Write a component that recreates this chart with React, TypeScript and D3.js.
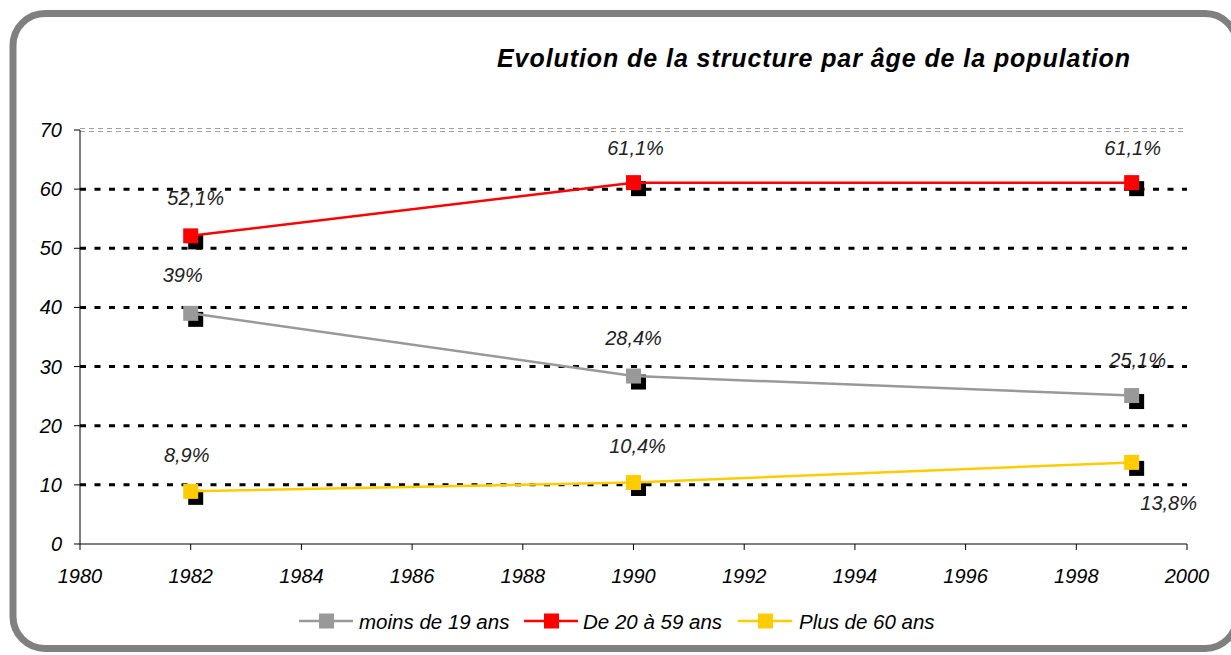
import React from "react";
import * as d3 from "d3";

const years = [1982, 1990, 1999];
const seriesNames = ["moins de 19 ans", "De 20 à 59 ans", "Plus de 60 ans"];
const moins19 = [39, 28.4, 25.1];
const de20a59 = [52.1, 61.1, 61.1];
const plus60 = [8.9, 10.4, 13.8];
const labelsMoins19 = ["39%", "28,4%", "25,1%"];
const labels20a59 = ["52,1%", "61,1%", "61,1%"];
const labelsPlus60 = ["8,9%", "10,4%", "13,8%"];
const colors = ["#999999", "#ff0000", "#ffcc00"];
const xTicks = [1980, 1982, 1984, 1986, 1988, 1990, 1992, 1994, 1996, 1998, 2000];
const yTicks = [0, 10, 20, 30, 40, 50, 60, 70];
const title = "Evolution de la structure par âge de la population";

// label offsets [dx, dy] (center) per series per point
const labelOffsets = [
  [[-8, -38], [0, -38], [6, -36]],
  [[5, -38], [2, -35], [1, -35]],
  [[-4, -36], [4, -36], [37, 41]],
];

export default function App() {
  const x = d3.scaleLinear().domain([1980, 2000]).range([80, 1187]);
  const y = d3.scaleLinear().domain([0, 70]).range([544, 130]);
  const font = "'Liberation Sans', Arial, sans-serif";
  const data = [moins19, de20a59, plus60];
  const labels = [labelsMoins19, labels20a59, labelsPlus60];
  const line = d3
    .line<number>()
    .x((_, i) => x(years[i]))
    .y((d) => y(d));
  const ms = 15;
  const legendItems = [
    { lx: 299, tx: 359 },
    { lx: 524, tx: 583 },
    { lx: 738, tx: 799 },
  ];
  return (
    <svg
      width={1231}
      height={655}
      style={{ position: "absolute", left: 0, top: 0, background: "#fff" }}
      fontFamily={font}
    >
      <rect x={13} y={13.5} width={1224} height={635} rx={32} ry={32} fill="#fff" stroke="#808080" strokeWidth={7} />
      <text
        x={497}
        y={67}
        textLength={633}
        lengthAdjust="spacing"
        fontSize={25}
        fontWeight="bold"
        fontStyle="italic"
        fill="#000"
      >
        {title}
      </text>
      {/* top border of plot (70) */}
      <line x1={x(1980)} x2={x(2000)} y1={y(70) - 1.5} y2={y(70) - 1.5} stroke="#a0a0a0" strokeWidth={1} strokeDasharray="5,4" />
      <line x1={x(1980)} x2={x(2000)} y1={y(70) + 1.5} y2={y(70) + 1.5} stroke="#a0a0a0" strokeWidth={1} strokeDasharray="5,4" />
      {/* gridlines */}
      {yTicks
        .filter((t) => t > 0 && t < 70)
        .map((t) => (
          <line key={t} x1={x(1980)} x2={x(2000)} y1={y(t)} y2={y(t)} stroke="#000" strokeWidth={3} strokeDasharray="6,8.5" />
        ))}
      {/* axes */}
      <line x1={x(1980)} x2={x(1980)} y1={y(70)} y2={y(0)} stroke="#000" strokeWidth={1} />
      <line x1={x(1980)} x2={x(2000)} y1={y(0)} y2={y(0)} stroke="#000" strokeWidth={1} />
      {yTicks.map((t) => (
        <g key={t}>
          <line x1={x(1980) - 6} x2={x(1980)} y1={y(t)} y2={y(t)} stroke="#000" />
          <text x={62} y={y(t) + 7} textAnchor="end" fontSize={20} fontStyle="italic" fill="#000">
            {t}
          </text>
        </g>
      ))}
      {xTicks.map((t) => (
        <g key={t}>
          <line x1={x(t)} x2={x(t)} y1={y(0)} y2={y(0) + 6} stroke="#000" />
          <text x={x(t)} y={583} textAnchor="middle" fontSize={20} fontStyle="italic" fill="#000">
            {t}
          </text>
        </g>
      ))}
      {/* shadows */}
      {data.map((s, si) =>
        s.map((v, i) => (
          <rect key={`sh${si}-${i}`} x={x(years[i]) - ms / 2 + 5} y={y(v) - ms / 2 + 6} width={ms} height={ms} fill="#000" />
        ))
      )}
      {/* lines */}
      {data.map((s, si) => (
        <path key={`l${si}`} d={line(s) || ""} fill="none" stroke={colors[si]} strokeWidth={2.5} />
      ))}
      {/* markers */}
      {data.map((s, si) =>
        s.map((v, i) => (
          <rect key={`m${si}-${i}`} x={x(years[i]) - ms / 2} y={y(v) - ms / 2} width={ms} height={ms} fill={colors[si]} />
        ))
      )}
      {/* labels */}
      {data.map((s, si) =>
        s.map((v, i) => (
          <text
            key={`t${si}-${i}`}
            x={x(years[i]) + labelOffsets[si][i][0]}
            y={y(v) + labelOffsets[si][i][1] + 7}
            textAnchor="middle"
            fontSize={20}
            fontStyle="italic"
            fill="#222"
          >
            {labels[si][i]}
          </text>
        ))
      )}
      {/* legend */}
      {legendItems.map((it, i) => (
        <g key={`lg${i}`}>
          <line x1={it.lx} x2={it.lx + 54} y1={621} y2={621} stroke={colors[i]} strokeWidth={2.5} />
          <rect x={it.lx + 20} y={613.5} width={15} height={15} fill={colors[i]} />
          <text x={it.tx} y={628.5} fontSize={20.5} fontStyle="italic" fill="#000">
            {seriesNames[i]}
          </text>
        </g>
      ))}
    </svg>
  );
}
